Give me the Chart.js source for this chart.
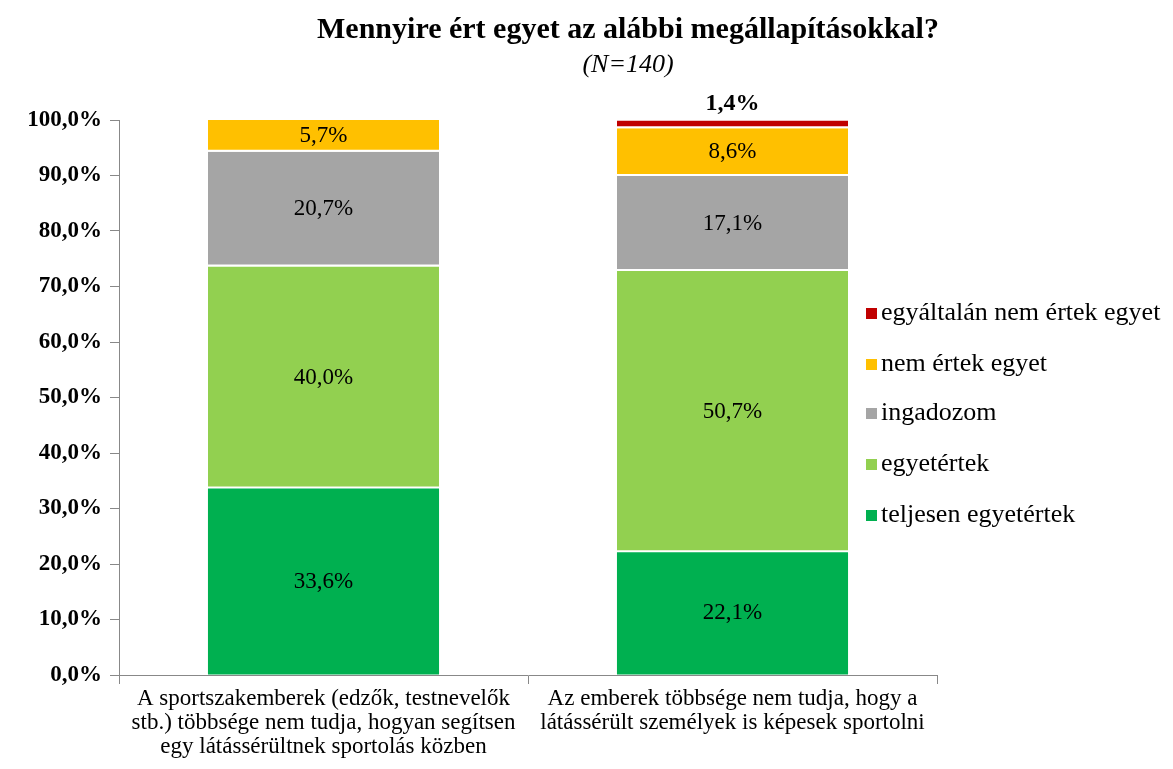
<!DOCTYPE html>
<html>
<head>
<meta charset="utf-8">
<script src="https://cdn.jsdelivr.net/npm/chart.js@4/dist/chart.umd.min.js"></script>
<style>
  body { margin: 0; background: #fff; }
  #wrap { width: 1173px; height: 769px; }
</style>
</head>
<body>
<div id="wrap"><canvas id="grafica" width="1173" height="769"></canvas></div>
<script>
const kategoriak = [
    ["A sportszakemberek (edzők, testnevelők", "stb.) többsége nem tudja, hogyan segítsen", "egy látássérültnek sportolás közben"],
    ["Az emberek többsége nem tudja, hogy a", "látássérült személyek is képesek sportolni"]
];
const sorozatNevek = ["teljesen egyetértek", "egyetértek", "ingadozom", "nem értek egyet", "egyáltalán nem értek egyet"];
const teljesen = [33.6, 22.1];
const egyetertek = [40.0, 50.7];
const ingadozom = [20.7, 17.1];
const nemErtek = [5.7, 8.6];
const egyaltalan = [0, 1.4];
const yTicks = [0, 10, 20, 30, 40, 50, 60, 70, 80, 90, 100];

const szinek = ["#00B050", "#92D050", "#A5A5A5", "#FFC000", "#C00000"];
const SERIF = "'Liberation Serif', 'DejaVu Serif', serif";

const fmt = (v) => v.toFixed(1).replace(".", ",") + "%";

// cimkek a szegmensekre
const ertekCimkek = {
    id: "ertekCimkek",
    afterDatasetsDraw(chart) {
        const ctx = chart.ctx;
        ctx.save();
        ctx.textAlign = "center";
        ctx.textBaseline = "middle";
        chart.data.datasets.forEach((ds, i) => {
            const meta = chart.getDatasetMeta(i);
            meta.data.forEach((bar, j) => {
                const v = ds.data[j];
                if (!v) return;
                ctx.fillStyle = "#000";
                if (v < 3) {
                    ctx.font = "bold 24px " + SERIF;
                    ctx.fillText(fmt(v), bar.x, bar.y - 17);
                } else {
                    ctx.font = "23px " + SERIF;
                    ctx.fillText(fmt(v), bar.x, (bar.y + bar.base) / 2);
                }
            });
        });
        ctx.restore();
    },
};

// cim es jelmagyarazat (a rajzterulet fole lognak, mint az eredetin)
const cimEsLegenda = {
    id: "cimEsLegenda",
    afterDraw(chart) {
        const ctx = chart.ctx;
        ctx.save();
        ctx.fillStyle = "#000";
        ctx.textAlign = "center";
        ctx.textBaseline = "middle";
        ctx.font = "bold 30px " + SERIF;
        ctx.fillText("Mennyire ért egyet az alábbi megállapításokkal?", 628, 30);
        ctx.font = "italic 26px " + SERIF;
        ctx.fillText("(N=140)", 628, 65);

        ctx.textAlign = "left";
        ctx.font = "26px " + SERIF;
        const sorok = [313, 364, 413, 464, 515];
        for (let k = 0; k < sorozatNevek.length; k++) {
            const idx = sorozatNevek.length - 1 - k;
            const y = sorok[k];
            ctx.fillStyle = szinek[idx];
            ctx.fillRect(866, y - 5, 11, 11);
            ctx.fillStyle = "#000";
            ctx.fillText(sorozatNevek[idx], 881, y);
        }
        ctx.restore();
    },
};

const sorozatok = [teljesen, egyetertek, ingadozom, nemErtek, egyaltalan];

new Chart(document.getElementById("grafica").getContext("2d"), {
    type: "bar",
    data: {
        labels: kategoriak,
        datasets: sorozatok.map((d, i) => ({
            label: sorozatNevek[i],
            data: d,
            backgroundColor: szinek[i],
            borderColor: "#fff",
            borderWidth: { top: 0, bottom: i === 0 ? 0 : 2, left: 0, right: 0 },
            borderSkipped: false,
            categoryPercentage: 1,
            barPercentage: 0.565,
        })),
    },
    options: {
        responsive: false,
        animation: false,
        layout: { padding: { top: 120, right: 236, left: 0, bottom: 0 } },
        plugins: {
            legend: { display: false },
            title: { display: false },
            tooltip: { enabled: false },
        },
        scales: {
            x: {
                stacked: true,
                afterFit: (s) => { s.height = 94; },
                grid: {
                    offset: true,
                    drawOnChartArea: false,
                    tickLength: 9,
                    color: "#888",
                },
                border: { color: "#888" },
                ticks: {
                    color: "#000",
                    font: { family: SERIF, size: 23, lineHeight: 1.05 },
                    padding: 3,
                    maxRotation: 0,
                    autoSkip: false,
                },
            },
            y: {
                stacked: true,
                min: 0,
                max: 100,
                afterFit: (s) => { s.width = 119; },
                afterBuildTicks: (s) => { s.ticks = yTicks.map((v) => ({ value: v })); },
                grid: {
                    drawOnChartArea: false,
                    tickLength: 9,
                    color: "#888",
                },
                border: { color: "#888" },
                ticks: {
                    color: "#000",
                    font: { family: SERIF, size: 23, weight: "bold" },
                    padding: 8,
                    callback: (v) => fmt(v),
                },
            },
        },
    },
    plugins: [ertekCimkek, cimEsLegenda],
});
</script>
</body>
</html>
